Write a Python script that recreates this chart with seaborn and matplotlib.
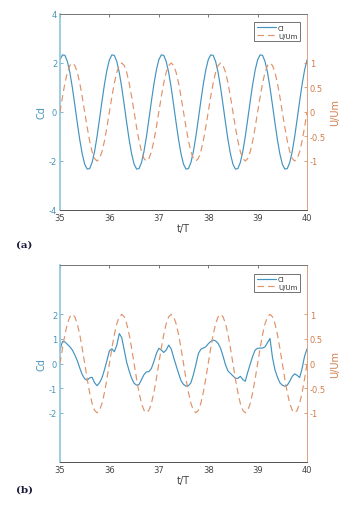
import numpy as np
import matplotlib
matplotlib.use("Agg")
import matplotlib.pyplot as plt
import seaborn as sns

# ---------------- data ----------------
t = np.round(np.linspace(35, 40, 101), 2)

# one period of U/Um sampled every 0.05 T, repeated five times
u_period = [0.0, 0.31, 0.59, 0.81, 0.95, 1.0, 0.95, 0.81, 0.59, 0.31,
            0.0, -0.31, -0.59, -0.81, -0.95, -1.0, -0.95, -0.81, -0.59, -0.31]
u_um = u_period * 5 + [0.0]

# panel (a) lift coefficient, one period repeated
cl_a_period = [2.13, 2.33, 2.31, 2.06, 1.61, 1.00, 0.29, -0.44, -1.13, -1.71,
               -2.13, -2.33, -2.31, -2.06, -1.61, -1.00, -0.29, 0.44, 1.13, 1.71]
cl_a = cl_a_period * 5 + [2.13]

# panel (b) lift coefficient
cl_b = [0.55, 0.90, 0.88, 0.78, 0.68, 0.55, 0.35, 0.12, -0.18, -0.45,
        -0.62, -0.68, -0.58, -0.56, -0.78, -0.90, -0.78, -0.58, -0.25, 0.12,
        0.52, 0.60, 0.48, 0.75, 1.22, 1.05, 0.55, 0.05, -0.30, -0.60,
        -0.80, -0.88, -0.85, -0.65, -0.45, -0.34, -0.33, -0.20, 0.08, 0.40,
        0.62, 0.55, 0.45, 0.55, 0.75, 0.60, 0.25, -0.08, -0.40, -0.70,
        -0.85, -0.92, -0.90, -0.78, -0.45, -0.05, 0.40, 0.58, 0.63, 0.68,
        0.80, 0.90, 0.95, 0.92, 0.82, 0.62, 0.30, -0.05, -0.30, -0.40,
        -0.50, -0.60, -0.60, -0.52, -0.65, -0.72, -0.35, -0.02, 0.30, 0.55,
        0.62, 0.63, 0.63, 0.68, 0.85, 1.02, 0.25, -0.25, -0.55, -0.78,
        -0.88, -0.92, -0.88, -0.72, -0.52, -0.42, -0.48, -0.57, -0.20, 0.30,
        0.60]

x_ticks = [35, 36, 37, 38, 39, 40]
left_ticks_a = [-4, -2, 0, 2, 4]
left_ticks_b = [-2, -1, 0, 1, 2]
right_ticks = [-1, -0.5, 0, 0.5, 1]
right_labels = ["-1", "-0.5", "0", "0.5", "1"]

# ---------------- style ----------------
sns.set_style("white")
plt.rcParams["font.family"] = ["DejaVu Sans"]

BLUE = "#4393c0"
ORANGE = "#e0926a"
LEFT_SPINE = "#8cc3dc"
LEFT_TXT = "#4a95b8"
RIGHT_SPINE = "#dda27e"
RIGHT_TXT = "#cf7d4c"
DARK = "#444444"

fig = plt.figure(figsize=(3.56, 5.10), dpi=100)


def draw_panel(rect, cl, left_ticks, tag, tag_y):
    ax = fig.add_axes(rect)
    sns.lineplot(x=t, y=cl, ax=ax, color=BLUE, linewidth=0.85, label="Cl")
    ax2 = ax.twinx()
    sns.lineplot(x=t, y=u_um, ax=ax2, color=ORANGE, linewidth=0.85,
                 linestyle=(0, (5.5, 3.5)), label="U/Um")

    ax.set_xlim(35, 40)
    ax.set_ylim(-4, 4)
    ax2.set_ylim(-2, 2)
    ax.set_xticks(x_ticks)
    ax.set_yticks(left_ticks)
    ax.set_yticklabels([str(v) for v in left_ticks])
    ax2.set_yticks(right_ticks)
    ax2.set_yticklabels(right_labels)

    ax.tick_params(axis="x", direction="in", length=2.5, width=0.5,
                   labelsize=6, colors=DARK, top=True, pad=2)
    ax.tick_params(axis="y", direction="in", length=2.5, width=0.5,
                   labelsize=6, colors=LEFT_TXT, pad=2)
    ax2.tick_params(axis="y", direction="in", length=2.5, width=0.5,
                    labelsize=6, colors=RIGHT_TXT, pad=2)

    ax.set_xlabel("t/T", fontsize=7, color=DARK, labelpad=1)
    ax.set_ylabel("Cd", fontsize=7, color=LEFT_TXT, labelpad=2)
    ax2.set_ylabel("U/Um", fontsize=7, color=RIGHT_TXT, labelpad=3,
                   rotation=90)

    for a in (ax, ax2):
        a.spines["top"].set_color("#777777")
        a.spines["bottom"].set_color("#555555")
        for s in a.spines.values():
            s.set_linewidth(0.7)
    ax.spines["left"].set_color(LEFT_SPINE)
    ax.spines["left"].set_linewidth(1.2)
    ax.spines["right"].set_visible(False)
    ax2.spines["left"].set_visible(False)
    ax2.spines["right"].set_color(RIGHT_SPINE)

    # one legend with both lines
    h1, l1 = ax.get_legend_handles_labels()
    h2, l2 = ax2.get_legend_handles_labels()
    ax.get_legend().remove()
    leg = ax2.legend(h1 + h2, l1 + l2, loc="upper right", fontsize=5,
                     frameon=True, fancybox=False, borderpad=0.35,
                     handlelength=2.8, handletextpad=0.3, labelspacing=0.25,
                     bbox_to_anchor=(0.985, 0.975))
    leg.get_frame().set_edgecolor("#333333")
    leg.get_frame().set_linewidth(0.6)
    for txt in leg.get_texts():
        txt.set_color("#333333")

    fig.text(0.045, tag_y, tag, fontsize=7.5, fontweight="bold",
             family="DejaVu Serif", color="#1a1a3a")
    return ax


draw_panel([0.1685, 0.5863, 0.694, 0.3843], cl_a, left_ticks_a, "(a)", 0.515)
draw_panel([0.1685, 0.0922, 0.694, 0.386], cl_b, left_ticks_b, "(b)", 0.035)

fig.savefig("out.png", dpi=100)
